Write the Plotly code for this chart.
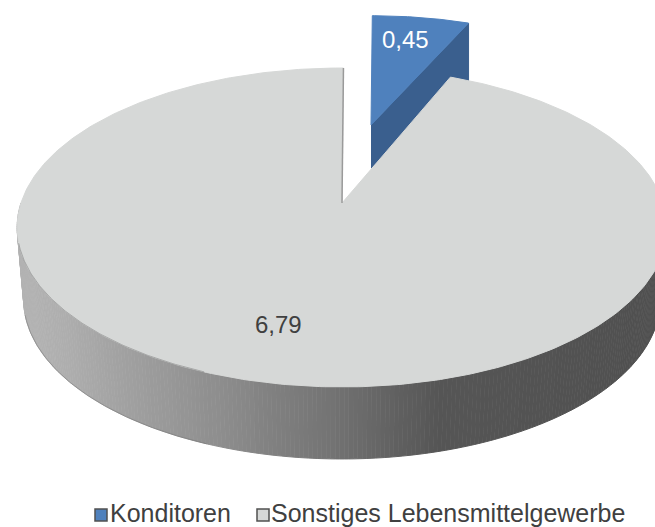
import numpy as np
import plotly.graph_objects as go

categories = ["Konditoren", "Sonstiges Lebensmittelgewerbe"]
values = [0.45, 6.79]
colors = ["#4F81BD", "#D6D8D7"]
blue_wall = "#3A5F8E"
wall_x = [17, 60, 130, 200, 260, 330, 400, 440, 520, 660]
wall_gray = [180, 175, 160, 146, 132, 116, 96, 86, 84, 80]
legend_marker_x = [101, 263]
legend_text_x = [110, 271]
legend_marker_y = [515, 515]
legend_text_y = [516, 516]
font_family = "Liberation Sans"

CX, CY, A, B, K = 342, 203, 321, 155.7, 0.1536
ROT = np.radians(0.3)
DEPTH = 72


def proj(theta, r=1.0):
    u, v = r * np.sin(theta), r * np.cos(theta)
    d = 1 + K * v
    return CX + A * u / d, CY - B * v / d


fr = np.array(values) / sum(values)
t0, t1 = ROT, ROT + 2 * np.pi * fr[0]
th_blue = np.linspace(t0, t1, 40)
th_gray = np.linspace(t1, ROT + 2 * np.pi, 400)

fig = go.Figure()


def poly(x, y, color, line=None, lw=1):
    fig.add_trace(go.Scatter(x=x, y=y, mode="lines", fill="toself", fillcolor=color,
                             line=dict(color=line or color, width=lw),
                             showlegend=False, hoverinfo="skip"))


# exploded blue slice, drawn first so the grey slice overlaps it
SX, SY, BX, BY = 0.90, 0.81, 371, 125
bx, by = proj(th_blue)
bx = BX + SX * (bx - CX)
by = BY + SY * (by - CY)
poly([BX, bx[-1], bx[-1], BX], [BY, by[-1], by[-1] + 58, BY + 43], blue_wall)
poly([BX] + list(bx) + [BX], [BY] + list(by) + [BY], colors[0])

# shaded side wall of the large slice
th_wall = np.linspace(np.pi / 2, 3 * np.pi / 2, 260)
for a, b in zip(th_wall[:-1], th_wall[1:]):
    th = np.array([a, b])
    x, y = proj(th)
    xb = CX + (x - CX) * 0.98
    yb = y + DEPTH
    g = int(np.interp(x.mean(), wall_x, wall_gray))
    c = f"rgb({g},{g},{g})"
    poly(list(x) + list(xb[::-1]), list(y) + list(yb[::-1]), c)

# top face of the large slice
gx, gy = proj(th_gray)
poly([CX] + list(gx) + [CX], [CY] + list(gy) + [CY], colors[1])
x0, y0 = proj(np.array([ROT]))
fig.add_trace(go.Scatter(x=[CX, x0[0]], y=[CY, y0[0]], mode="lines",
                         line=dict(color="#9A9A9A", width=1.5),
                         showlegend=False, hoverinfo="skip"))

# thin darker edge along the left part of the disc
th_edge = np.linspace(np.pi * 1.12, np.pi * 1.42, 120)
ex, ey = proj(th_edge)
fig.add_trace(go.Scatter(x=ex, y=ey, mode="lines", line=dict(color="rgba(110,110,110,0.45)", width=1),
                         showlegend=False, hoverinfo="skip"))
fig.add_trace(go.Scatter(x=CX + (ex - CX) * 0.98, y=ey + DEPTH, mode="lines",
                         line=dict(color="rgba(110,110,110,0.45)", width=1),
                         showlegend=False, hoverinfo="skip"))

# legend entries
fig.add_trace(go.Scatter(x=legend_marker_x, y=legend_marker_y, mode="markers",
                         marker=dict(symbol="square", size=12, color=colors,
                                     line=dict(color="#505050", width=1.5)),
                         showlegend=False, hoverinfo="skip", cliponaxis=False))
fig.add_trace(go.Scatter(x=legend_text_x, y=legend_text_y, mode="text", text=categories,
                         textposition="middle right",
                         textfont=dict(family=font_family, size=25, color="#404040"),
                         showlegend=False, hoverinfo="skip", cliponaxis=False))

label = lambda v: f"{v:.2f}".replace(".", ",")
ann = [dict(x=405, y=39, text=label(values[0]), font=dict(color="white", size=24)),
       dict(x=278, y=324, text=label(values[1]), font=dict(color="#404040", size=24))]
for a in ann:
    a.update(showarrow=False, xref="x", yref="y")
    a["font"]["family"] = font_family

fig.update_layout(
    width=655, height=527, margin=dict(l=0, r=0, t=0, b=0),
    paper_bgcolor="white", plot_bgcolor="white",
    xaxis=dict(range=[0, 655], visible=False, fixedrange=True),
    yaxis=dict(range=[527, 0], visible=False, fixedrange=True),
    annotations=ann, showlegend=False,
)
fig.write_html("out.html", config={"displayModeBar": False},
               post_script="document.body.style.margin='0';document.documentElement.style.overflow='hidden';")
